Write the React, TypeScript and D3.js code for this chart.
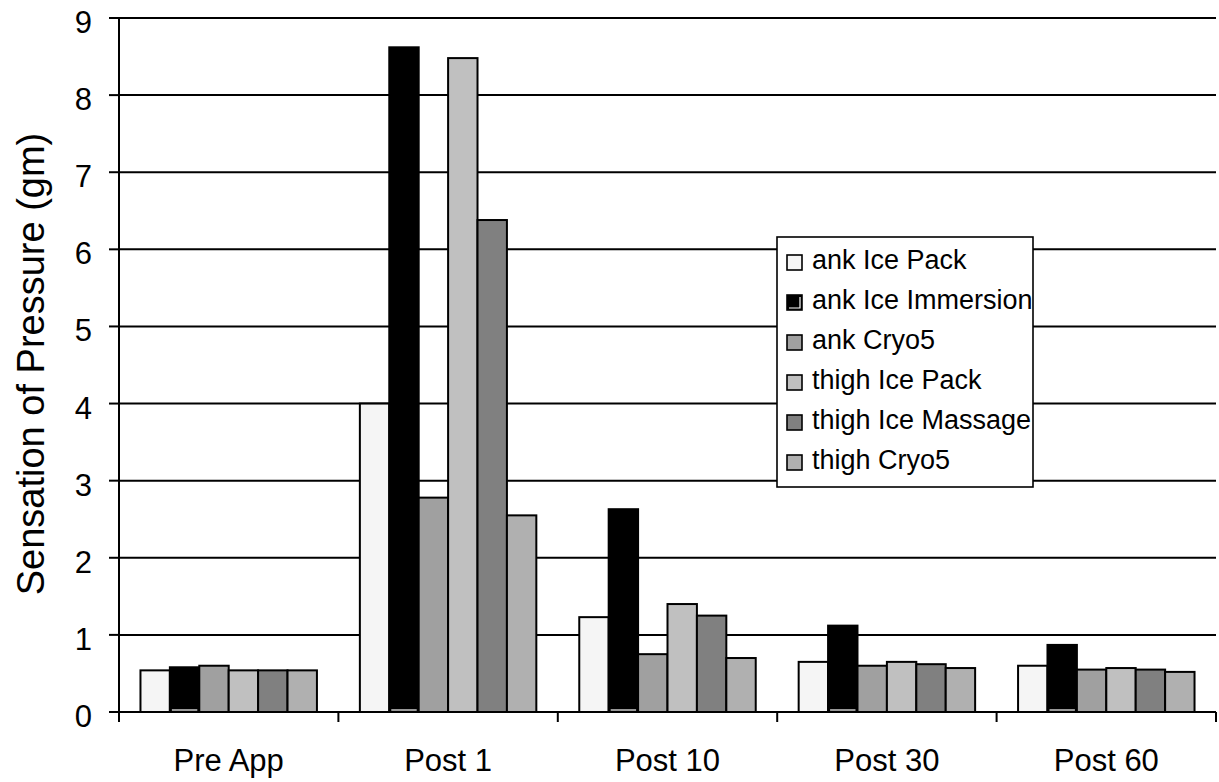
import * as d3 from 'd3';

const categories = ['Pre App', 'Post 1', 'Post 10', 'Post 30', 'Post 60'];
const seriesNames = [
  'ank Ice Pack',
  'ank Ice Immersion',
  'ank Cryo5',
  'thigh Ice Pack',
  'thigh Ice Massage',
  'thigh Cryo5',
];
const seriesColors = ['#f5f5f5', '#000000', '#a0a0a0', '#c0c0c0', '#808080', '#b0b0b0'];

// one array per series, values by category
const ankIcePack = [0.54, 4.0, 1.23, 0.65, 0.6];
const ankIceImmersion = [0.58, 8.62, 2.63, 1.12, 0.87];
const ankCryo5 = [0.6, 2.78, 0.75, 0.6, 0.55];
const thighIcePack = [0.54, 8.48, 1.4, 0.65, 0.57];
const thighIceMassage = [0.54, 6.38, 1.25, 0.62, 0.55];
const thighCryo5 = [0.54, 2.55, 0.7, 0.57, 0.52];
const seriesValues = [ankIcePack, ankIceImmersion, ankCryo5, thighIcePack, thighIceMassage, thighCryo5];

const yTicks = [0, 1, 2, 3, 4, 5, 6, 7, 8, 9];

const FONT = 'Liberation Sans, Arial, Helvetica, sans-serif';

export default function App() {
  const width = 1219;
  const height = 782;
  const left = 119;
  const right = 1216;
  const top = 18;
  const bottom = 712;

  const x0 = d3.scaleBand<string>().domain(categories).range([left, right]).padding(0);
  const x1 = d3
    .scaleBand<string>()
    .domain(seriesNames)
    .range([0, x0.bandwidth()])
    .paddingInner(0)
    .paddingOuter(0.73);
  const y = d3.scaleLinear().domain([0, 9]).range([bottom, top]);

  const bandEdges = categories.map((c) => x0(c) as number).concat([right]);

  // legend box
  const lg = { x: 777, y: 237, w: 256, h: 250, row: 40 };

  return (
    <div style={{ position: 'absolute', left: 0, top: 0 }}>
      <svg width={width} height={height} style={{ display: 'block', background: '#fff' }}>
        {/* gridlines */}
        {yTicks
          .filter((t) => t > 0)
          .map((t) => (
            <line key={'g' + t} x1={left} x2={right} y1={y(t)} y2={y(t)} stroke="#000" strokeWidth={2} />
          ))}

        {/* bars */}
        {categories.map((c, ci) => (
          <g key={c} transform={`translate(${x0(c)},0)`}>
            {seriesNames.map((s, si) => {
              const v = seriesValues[si][ci];
              const bx = x1(s) as number;
              const bw = x1.bandwidth();
              return (
                <g key={s}>
                  <rect
                    x={bx}
                    y={y(v)}
                    width={bw}
                    height={y(0) - y(v)}
                    fill={seriesColors[si]}
                    stroke="#000"
                    strokeWidth={2}
                  />
                  {seriesColors[si] === '#000000' && (
                    <line
                      x1={bx + 2}
                      x2={bx + bw - 2}
                      y1={y(0) - 2}
                      y2={y(0) - 2}
                      stroke="#fff"
                      strokeWidth={1.2}
                    />
                  )}
                </g>
              );
            })}
          </g>
        ))}

        {/* y axis */}
        <line x1={left} x2={left} y1={top} y2={bottom} stroke="#000" strokeWidth={2} />
        {yTicks.map((t) => (
          <g key={'yt' + t}>
            <line x1={left - 10} x2={left} y1={y(t)} y2={y(t)} stroke="#000" strokeWidth={2} />
            <text
              x={left - 27}
              y={y(t) + 15}
              textAnchor="end"
              fontFamily={FONT}
              fontSize={31}
              fill="#000"
            >
              {t}
            </text>
          </g>
        ))}

        {/* x axis */}
        <line x1={left} x2={right} y1={bottom} y2={bottom} stroke="#000" strokeWidth={2} />
        {bandEdges.map((e, i) => (
          <line key={'xt' + i} x1={e} x2={e} y1={bottom} y2={bottom + 10} stroke="#000" strokeWidth={2} />
        ))}
        {categories.map((c) => (
          <text
            key={'xl' + c}
            x={(x0(c) as number) + x0.bandwidth() / 2}
            y={771}
            textAnchor="middle"
            fontFamily={FONT}
            fontSize={31}
            fill="#000"
          >
            {c}
          </text>
        ))}

        {/* y title */}
        <text
          transform={`translate(44,364) rotate(-90)`}
          textAnchor="middle"
          fontFamily={FONT}
          fontSize={38}
          fill="#000"
        >
          Sensation of Pressure (gm)
        </text>

        {/* legend */}
        <rect x={lg.x} y={lg.y} width={lg.w} height={lg.h} fill="#fff" stroke="#000" strokeWidth={1.6} />
        {seriesNames.map((s, i) => {
          const sy = lg.y + 18 + i * lg.row;
          return (
            <g key={'lg' + s}>
              <rect x={lg.x + 10} y={sy} width={15} height={15} fill={seriesColors[i]} stroke="#000" strokeWidth={1.6} />
              {seriesColors[i] === '#000000' && (
                <path
                  d={`M${lg.x + 12},${sy + 13} H${lg.x + 23} V${sy + 2}`}
                  fill="none"
                  stroke="#fff"
                  strokeWidth={1.2}
                />
              )}
              <text x={lg.x + 35} y={sy + 14} fontFamily={FONT} fontSize={27} fill="#000">
                {s}
              </text>
            </g>
          );
        })}
      </svg>
    </div>
  );
}
